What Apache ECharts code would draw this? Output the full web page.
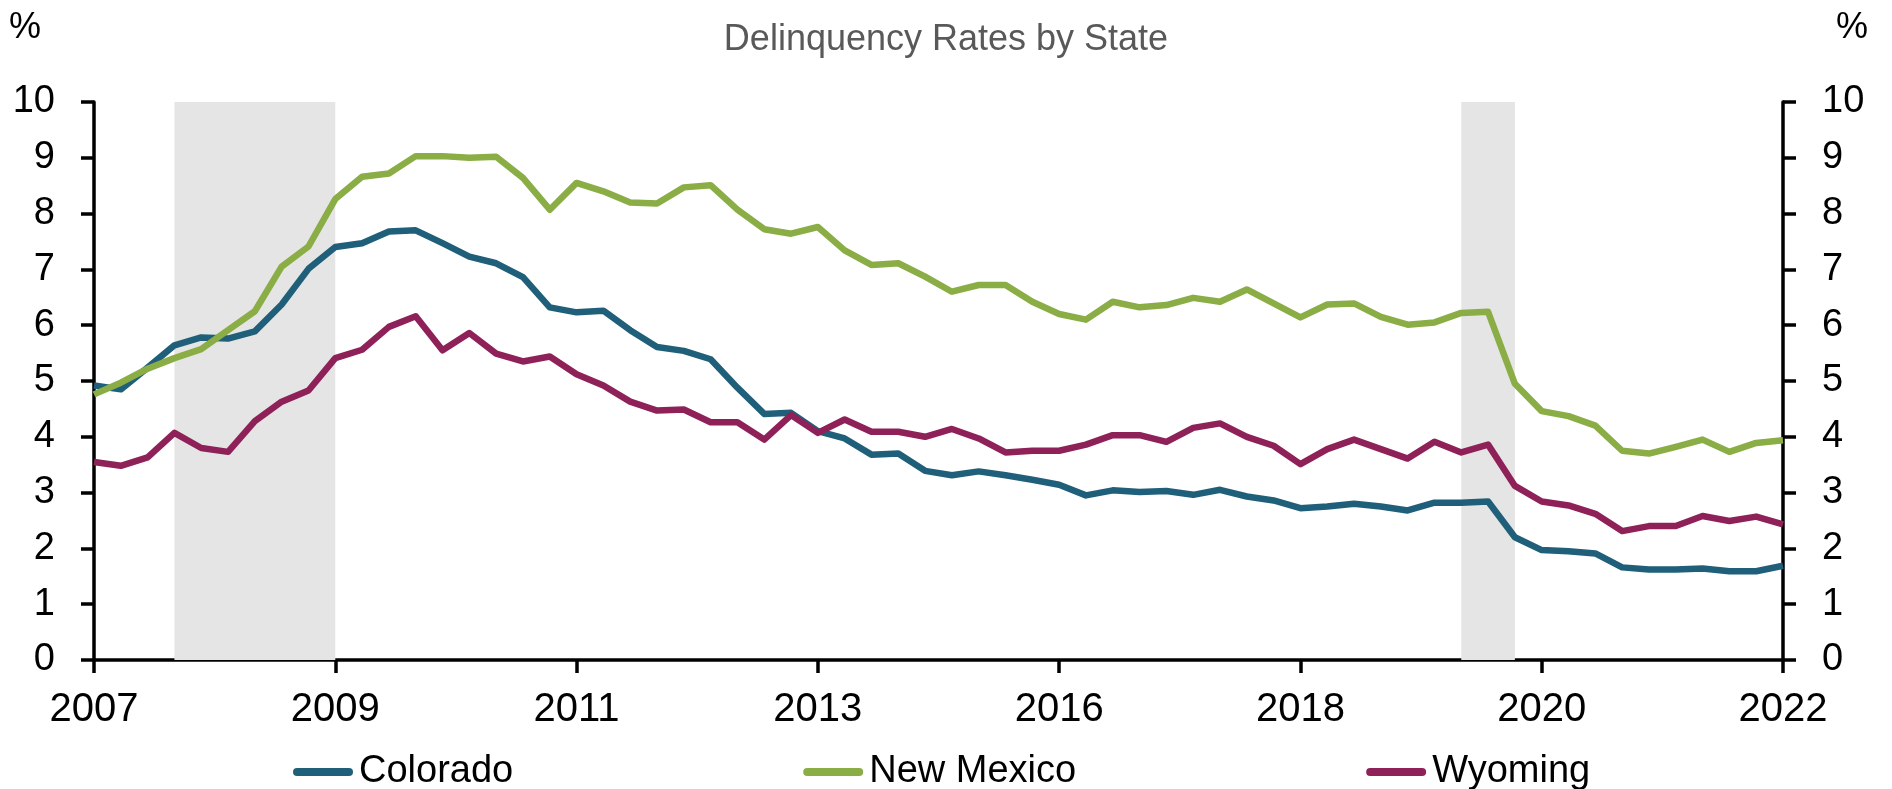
<!DOCTYPE html>
<html>
<head>
<meta charset="utf-8">
<title>Delinquency Rates by State</title>
<script src="https://cdn.jsdelivr.net/npm/echarts@6/dist/echarts.min.js"></script>
<style>
  html, body { margin: 0; padding: 0; background: #fff; }
  #chart { width: 1892px; height: 789px; }
</style>
</head>
<body>
<div id="chart"></div>
<script>
// quarters, 2007Q1 .. 2022Q4
const quarters = [
  '2007Q1','2007Q2','2007Q3','2007Q4','2008Q1','2008Q2','2008Q3','2008Q4',
  '2009Q1','2009Q2','2009Q3','2009Q4','2010Q1','2010Q2','2010Q3','2010Q4',
  '2011Q1','2011Q2','2011Q3','2011Q4','2012Q1','2012Q2','2012Q3','2012Q4',
  '2013Q1','2013Q2','2013Q3','2013Q4','2014Q1','2014Q2','2014Q3','2014Q4',
  '2015Q1','2015Q2','2015Q3','2015Q4','2016Q1','2016Q2','2016Q3','2016Q4',
  '2017Q1','2017Q2','2017Q3','2017Q4','2018Q1','2018Q2','2018Q3','2018Q4',
  '2019Q1','2019Q2','2019Q3','2019Q4','2020Q1','2020Q2','2020Q3','2020Q4',
  '2021Q1','2021Q2','2021Q3','2021Q4','2022Q1','2022Q2','2022Q3','2022Q4'
]

const colorado = [
  4.92, 4.85, 5.24, 5.64, 5.78, 5.76, 5.89, 6.37, 7.01, 7.40, 7.47, 7.68, 7.70, 7.47, 7.23, 7.11,
  6.86, 6.32, 6.23, 6.26, 5.91, 5.61, 5.54, 5.39, 4.88, 4.41, 4.43, 4.10, 3.97, 3.68, 3.70, 3.39,
  3.31, 3.38, 3.31, 3.23, 3.14, 2.95, 3.04, 3.01, 3.03, 2.96, 3.05, 2.93, 2.86, 2.72, 2.75, 2.80,
  2.75, 2.68, 2.82, 2.82, 2.84, 2.20, 1.97, 1.95, 1.91, 1.66, 1.62, 1.62, 1.64, 1.59, 1.59, 1.69
]
const newMexico = [
  4.76, 4.97, 5.22, 5.41, 5.57, 5.91, 6.25, 7.05, 7.41, 8.26, 8.66, 8.72, 9.03, 9.03, 9.00, 9.02,
  8.64, 8.07, 8.55, 8.40, 8.20, 8.18, 8.47, 8.51, 8.07, 7.72, 7.64, 7.76, 7.34, 7.08, 7.11, 6.87,
  6.60, 6.72, 6.72, 6.42, 6.20, 6.10, 6.42, 6.32, 6.36, 6.49, 6.42, 6.64, 6.39, 6.14, 6.37, 6.39,
  6.15, 6.01, 6.05, 6.22, 6.24, 4.95, 4.46, 4.37, 4.20, 3.75, 3.70, 3.82, 3.95, 3.73, 3.89, 3.94
]
const wyoming = [
  3.55, 3.48, 3.63, 4.07, 3.80, 3.73, 4.28, 4.63, 4.83, 5.41, 5.56, 5.97, 6.16, 5.55, 5.86, 5.49,
  5.35, 5.44, 5.12, 4.92, 4.63, 4.47, 4.49, 4.26, 4.26, 3.95, 4.39, 4.07, 4.31, 4.09, 4.09, 4.00,
  4.14, 3.97, 3.72, 3.75, 3.75, 3.86, 4.03, 4.03, 3.91, 4.16, 4.24, 4.00, 3.84, 3.51, 3.78, 3.95,
  3.78, 3.61, 3.91, 3.72, 3.86, 3.12, 2.84, 2.77, 2.62, 2.31, 2.40, 2.40, 2.58, 2.49, 2.57, 2.43
]

// recessions (shaded)
const recessions = [
  ['2007Q4', '2009Q2'],
  ['2019Q4', '2020Q2']
]

const FONT = "'Liberation Sans', Arial, sans-serif"
const axisColor = '#000'

const chart = echarts.init(document.getElementById('chart'))

const yAxisBase = {
  type: 'value',
  min: 0,
  max: 10,
  interval: 1,
  splitLine: { show: false },
  axisLine: { show: true, lineStyle: { color: axisColor, width: 3.5 } },
  axisTick: { show: true, length: 13, lineStyle: { color: axisColor, width: 3.5 } },
  axisLabel: { color: '#000', fontSize: 38, fontFamily: FONT, margin: 39 }
}

const legendIcon = 'path://M4,0 H56 A4,4 0 0 1 56,8 H4 A4,4 0 0 1 4,0 Z'

const option = {
  animation: false,
  backgroundColor: '#fff',
  title: {
    text: 'Delinquency Rates by State',
    left: 'center',
    top: 17,
    textStyle: { color: '#595959', fontSize: 36, fontWeight: 'normal', fontFamily: FONT }
  },
  graphic: [
    { type: 'text', left: 9, top: 10, style: { text: '%', fontSize: 36, fontFamily: FONT, fill: '#000' } },
    { type: 'text', right: 24, top: 10, style: { text: '%', fontSize: 36, fontFamily: FONT, fill: '#000' } }
  ],
  legend: {
    data: ['Colorado', 'New Mexico', 'Wyoming'],
    left: 288,
    top: 748,
    itemWidth: 62,
    itemHeight: 8,
    itemGap: 290,
    icon: legendIcon,
    textStyle: { color: '#000', fontSize: 38, fontFamily: FONT }
  },
  grid: { left: 94, right: 109, top: 102, bottom: 129 },
  xAxis: {
    type: 'category',
    data: quarters,
    boundaryGap: false,
    axisLine: { lineStyle: { color: axisColor, width: 3.5 } },
    axisTick: { show: true, interval: 8, length: 13, lineStyle: { color: axisColor, width: 3.5 } },
    axisLabel: {
      interval: 8,
      color: '#000',
      fontSize: 40,
      fontFamily: FONT,
      margin: 30,
      formatter: v => v.slice(0, 4)
    },
    splitLine: { show: false }
  },
  yAxis: [
    Object.assign({}, yAxisBase, { position: 'left' }),
    Object.assign({}, yAxisBase, { position: 'right' })
  ],
  series: [
    {
      name: 'recession',
      type: 'line',
      data: [],
      z: 1,
      silent: true,
      markArea: {
        silent: true,
        itemStyle: { color: '#e5e5e5' },
        data: recessions.map(r => [{ xAxis: r[0] }, { xAxis: r[1] }])
      }
    },
    {
      name: 'Colorado',
      type: 'line',
      data: colorado,
      z: 3,
      showSymbol: false,
      color: '#1f5f7a',
      lineStyle: { width: 6.5, color: '#1f5f7a', join: 'round' }
    },
    {
      name: 'New Mexico',
      type: 'line',
      data: newMexico,
      z: 3,
      showSymbol: false,
      color: '#8aad45',
      lineStyle: { width: 6.5, color: '#8aad45', join: 'round' }
    },
    {
      name: 'Wyoming',
      type: 'line',
      data: wyoming,
      z: 3,
      showSymbol: false,
      color: '#8f2159',
      lineStyle: { width: 6.5, color: '#8f2159', join: 'round' }
    }
  ]
}

chart.setOption(option)
</script>
</body>
</html>
